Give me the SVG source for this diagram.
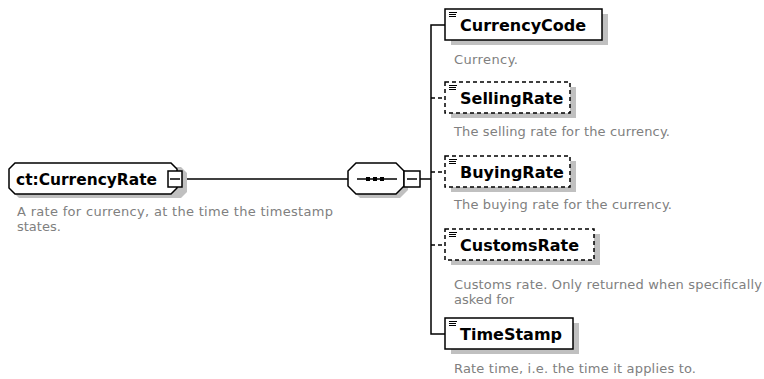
<svg xmlns="http://www.w3.org/2000/svg" width="764" height="379" viewBox="0 0 764 379">
<style>
.box{fill:#fff;stroke:#000;stroke-width:1.5}
.dash{stroke-dasharray:4 3}
.shadow{fill:#c0c0c0;stroke:none}
.name{font-family:"DejaVu Sans",Verdana,sans-serif;font-weight:bold;font-size:16px;fill:#000}
.desc{font-family:"DejaVu Sans",Verdana,sans-serif;font-size:13px;fill:#808080}
.conn{stroke:#000;stroke-width:1.5;fill:none}
.icon{stroke:#000;stroke-width:1}
</style>
<defs>
<g id="icon" class="icon">
<line x1="0" y1="0.5" x2="8" y2="0.5"/>
<line x1="0" y1="2.5" x2="7" y2="2.5"/>
<line x1="0" y1="4.5" x2="7" y2="4.5"/>
</g>
</defs>
<rect width="764" height="379" fill="#fff"/>
<g id="connectors">
<line class="conn" x1="182" y1="179" x2="348" y2="179"/>
<line class="conn" x1="420" y1="179" x2="431" y2="179"/>
<polyline class="conn" points="445,25 431,25 431,334 445,334"/>
<line class="conn dash" x1="431" y1="98" x2="445" y2="98"/>
<line class="conn dash" x1="431" y1="172" x2="445" y2="172"/>
<line class="conn dash" x1="431" y1="245" x2="445" y2="245"/>
</g>
<g id="root">
<polygon class="shadow" points="19,167 181,167 187,173 187,192 181,198 19,198 13,192 13,173"/>
<polygon class="box" points="15,163 171,163 177,169 177,188 171,194 15,194 9,188 9,169"/>
<text class="name" x="16" y="185" textLength="141" lengthAdjust="spacingAndGlyphs">ct:CurrencyRate</text>
<rect class="box" x="168" y="171" width="14" height="16"/>
<line class="conn" x1="170" y1="179" x2="180" y2="179"/>
<text class="desc" x="17" y="216" textLength="316" lengthAdjust="spacing">A rate for currency, at the time the timestamp</text>
<text class="desc" x="17" y="231">states.</text>
</g>
<g id="sequence">
<polygon class="shadow" points="360,167 400,167 408,175 408,190 400,198 360,198 352,190 352,175"/>
<polygon class="box" points="356,163 396,163 404,171 404,186 396,194 356,194 348,186 348,171"/>
<line class="conn" x1="357" y1="179" x2="397" y2="179"/>
<rect x="366" y="177" width="4" height="4" fill="#000"/>
<rect x="373" y="177" width="4" height="4" fill="#000"/>
<rect x="380" y="177" width="4" height="4" fill="#000"/>
<rect class="box" x="404" y="171" width="16" height="16"/>
<line class="conn" x1="407" y1="179" x2="417" y2="179"/>
</g>
<g id="CurrencyCode">
<rect class="shadow" x="451" y="14" width="157" height="31"/>
<rect class="box" x="445" y="9" width="157" height="31"/>
<use href="#icon" x="449" y="12"/>
<text class="name" x="460" y="31">CurrencyCode</text>
<text class="desc" x="454" y="64" textLength="64" lengthAdjust="spacing">Currency.</text>
</g>
<g id="SellingRate">
<rect class="shadow" x="451" y="87" width="125" height="31"/>
<rect class="box dash" x="445" y="82" width="125" height="31"/>
<use href="#icon" x="449" y="85"/>
<text class="name" x="460" y="104">SellingRate</text>
<text class="desc" x="454" y="136" textLength="216" lengthAdjust="spacing">The selling rate for the currency.</text>
</g>
<g id="BuyingRate">
<rect class="shadow" x="451" y="161" width="125" height="31"/>
<rect class="box dash" x="445" y="156" width="125" height="31"/>
<use href="#icon" x="449" y="159"/>
<text class="name" x="460" y="178">BuyingRate</text>
<text class="desc" x="454" y="209" textLength="218" lengthAdjust="spacing">The buying rate for the currency.</text>
</g>
<g id="CustomsRate">
<rect class="shadow" x="451" y="234" width="149" height="31"/>
<rect class="box dash" x="445" y="229" width="149" height="31"/>
<use href="#icon" x="449" y="232"/>
<text class="name" x="460" y="251">CustomsRate</text>
<text class="desc" x="454" y="289" textLength="308" lengthAdjust="spacing">Customs rate. Only returned when specifically</text>
<text class="desc" x="454" y="304">asked for</text>
</g>
<g id="TimeStamp">
<rect class="shadow" x="451" y="323" width="128" height="31"/>
<rect class="box" x="445" y="318" width="128" height="31"/>
<use href="#icon" x="449" y="321"/>
<text class="name" x="460" y="340">TimeStamp</text>
<text class="desc" x="454" y="373" textLength="242" lengthAdjust="spacing">Rate time, i.e. the time it applies to.</text>
</g>
</svg>
